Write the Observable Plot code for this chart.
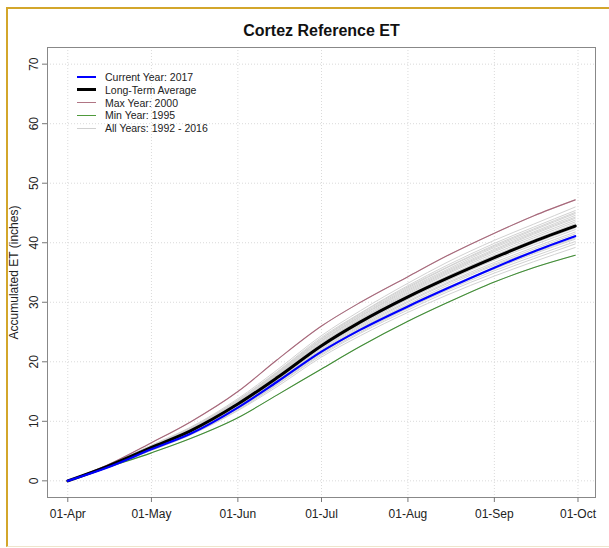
<!DOCTYPE html>
<html><head><meta charset="utf-8">
<script src="https://cdn.jsdelivr.net/npm/d3@7"></script>
<script src="https://cdn.jsdelivr.net/npm/@observablehq/plot@0.6"></script>
<style>
html,body{margin:0;padding:0;background:#fff;}
#wrap{position:relative;width:609px;height:548px;overflow:hidden;font-family:"Liberation Sans",Arial,sans-serif;}
#border{position:absolute;left:6px;top:7px;width:700px;height:537px;border-left:2px solid #d3a62b;border-top:2px solid #d3a62b;border-bottom:1px solid #efe5cc;pointer-events:none;}
#legend{position:absolute;left:77px;top:70.6px;font-size:10.5px;color:#222;}
.row{display:flex;align-items:center;height:12.8px;white-space:nowrap;}
.sw{width:19px;margin-right:9px;}
#chart svg{display:block;}
</style></head><body>
<div id="wrap"><div id="chart"></div><div id="legend"></div><div id="border"></div></div>
<script>
// Sample dates
const dates = ["2017-04-01","2017-04-15","2017-05-01","2017-05-15","2017-06-01","2017-06-15","2017-07-01","2017-07-15","2017-08-01","2017-08-15","2017-09-01","2017-09-15","2017-09-30"];
// Main series (accumulated ET, inches)
const avgLT   = [0, 2.4, 5.6, 8.4, 12.9, 17.3, 22.7, 26.7, 30.9, 34.0, 37.5, 40.2, 42.8];
const cur2017 = [0, 2.2, 5.3, 7.9, 12.3, 16.6, 21.7, 25.4, 29.3, 32.3, 35.8, 38.5, 41.1];
const max2000 = [0, 2.6, 6.4, 9.9, 15.0, 20.3, 26.0, 30.0, 34.3, 37.8, 41.6, 44.5, 47.2];
const min1995 = [0, 2.2, 4.7, 7.1, 10.6, 14.4, 18.8, 22.6, 26.8, 29.9, 33.4, 35.8, 37.9];
// All years (gray)
const y1992 = [0, 2.4, 5.7, 8.5, 13.1, 17.6, 23.1, 27.1, 31.4, 34.7, 38.2, 40.8, 43.5];
const y1993 = [0, 2.3, 5.5, 8.2, 12.5, 16.9, 22.2, 26.0, 30.2, 33.3, 36.7, 39.2, 41.8];
const y1994 = [0, 2.5, 5.8, 8.7, 13.4, 18.0, 23.6, 27.7, 32.2, 35.5, 39.2, 41.8, 44.6];
const y1996 = [0, 2.5, 5.9, 8.9, 13.6, 18.3, 24.1, 28.2, 32.8, 36.2, 39.9, 42.6, 45.4];
const y1997 = [0, 2.3, 5.3, 8.0, 12.2, 16.4, 21.5, 25.3, 29.3, 32.4, 35.6, 38.1, 40.6];
const y1998 = [0, 2.4, 5.5, 8.3, 12.7, 17.0, 22.4, 26.2, 30.5, 33.6, 37.1, 39.6, 42.2];
const y1999 = [0, 2.3, 5.4, 8.1, 12.4, 16.6, 21.8, 25.6, 29.7, 32.8, 36.2, 38.6, 41.2];
const y2001 = [0, 2.5, 5.8, 8.6, 13.2, 17.8, 23.4, 27.4, 31.8, 35.1, 38.7, 41.4, 44.1];
const y2002 = [0, 2.6, 6.0, 9.0, 13.8, 18.6, 24.4, 28.6, 33.2, 36.7, 40.4, 43.1, 46.0];
const y2003 = [0, 2.5, 5.9, 8.8, 13.5, 18.1, 23.8, 27.9, 32.4, 35.8, 39.4, 42.1, 44.9];
const y2004 = [0, 2.3, 5.3, 7.9, 12.1, 16.2, 21.3, 25.0, 29.0, 32.0, 35.3, 37.7, 40.2];
const y2005 = [0, 2.4, 5.6, 8.4, 12.8, 17.3, 22.6, 26.6, 30.8, 34.0, 37.5, 40.1, 42.7];
const y2006 = [0, 2.4, 5.6, 8.4, 12.9, 17.4, 22.8, 26.7, 31.0, 34.3, 37.8, 40.3, 43.0];
const y2007 = [0, 2.5, 5.7, 8.6, 13.1, 17.7, 23.2, 27.2, 31.6, 34.9, 38.5, 41.1, 43.8];
const y2008 = [0, 2.4, 5.6, 8.3, 12.8, 17.2, 22.5, 26.4, 30.7, 33.9, 37.3, 39.9, 42.5];
const y2009 = [0, 2.2, 5.1, 7.7, 11.8, 15.8, 20.8, 24.4, 28.3, 31.2, 34.4, 36.8, 39.2];
const y2010 = [0, 2.3, 5.4, 8.1, 12.5, 16.8, 22.0, 25.8, 30.0, 33.1, 36.4, 38.9, 41.5];
const y2011 = [0, 2.5, 5.8, 8.7, 13.3, 17.9, 23.5, 27.6, 32.0, 35.3, 38.9, 41.6, 44.3];
const y2012 = [0, 2.5, 5.9, 8.8, 13.5, 18.2, 23.9, 28.1, 32.6, 35.9, 39.6, 42.3, 45.1];
const y2013 = [0, 2.4, 5.7, 8.5, 13.0, 17.5, 22.9, 26.9, 31.2, 34.4, 37.9, 40.5, 43.2];
const y2014 = [0, 2.3, 5.3, 8.0, 12.2, 16.5, 21.6, 25.4, 29.5, 32.5, 35.8, 38.3, 40.8];
const y2015 = [0, 2.2, 5.2, 7.8, 11.9, 16.1, 21.1, 24.8, 28.7, 31.7, 34.9, 37.3, 39.8];
const y2016 = [0, 2.4, 5.6, 8.4, 12.9, 17.3, 22.7, 26.7, 31.0, 34.2, 37.7, 40.2, 42.9];
const grayYears = [[1992,y1992],[1993,y1993],[1994,y1994],[1995,min1995],[1996,y1996],[1997,y1997],[1998,y1998],[1999,y1999],[2000,max2000],[2001,y2001],[2002,y2002],[2003,y2003],[2004,y2004],[2005,y2005],[2006,y2006],[2007,y2007],[2008,y2008],[2009,y2009],[2010,y2010],[2011,y2011],[2012,y2012],[2013,y2013],[2014,y2014],[2015,y2015],[2016,y2016]];
// Axis ticks
const xTickDates = ["2017-04-01","2017-05-01","2017-06-01","2017-07-01","2017-08-01","2017-09-01","2017-10-01"];
const yTicks = [0,10,20,30,40,50,60,70];
const yLimits = [0, 70];
const title = "Cortez Reference ET";
const yLabel = "Accumulated ET (inches)";
const legendItems = [
  ["Current Year: 2017", "#0000ff", 2],
  ["Long-Term Average", "#000000", 3],
  ["Max Year: 2000", "#b07584", 1],
  ["Min Year: 1995", "#4f9a3c", 1.5],
  ["All Years: 1992 - 2016", "#d0d0d0", 1]
];

const toDate = s => new Date(s + "T00:00:00Z");
const series = arr => dates.map((d, i) => ({date: toDate(d), v: arr[i]}));
const grayData = grayYears.flatMap(([yr, arr]) => dates.map((d, i) => ({date: toDate(d), v: arr[i], year: yr})));

// R-style 4% padding of ranges
const t0 = toDate(dates[0]).getTime(), t1 = toDate(dates[dates.length-1]).getTime();
const px = (t1 - t0) * 0.04;
const py = (yLimits[1] - yLimits[0]) * 0.04;
const xTicks = xTickDates.map(toDate);
const fmt = d3.utcFormat("%d-%b");
const curve = "monotone-x";

const chart = Plot.plot({
  width: 609, height: 548,
  marginLeft: 47, marginRight: 14, marginTop: 47, marginBottom: 51,
  style: {fontFamily: "'Liberation Sans', Arial, sans-serif", fontSize: "12px", background: "transparent"},
  x: {type: "utc", domain: [new Date(t0 - px), new Date(t1 + px)]},
  y: {domain: [yLimits[0] - py, yLimits[1] + py]},
  marks: [
    Plot.gridX(xTicks, {stroke: "#dadada", strokeOpacity: 1, strokeDasharray: "1,2"}),
    Plot.gridY(yTicks, {stroke: "#dadada", strokeOpacity: 1, strokeDasharray: "1,2"}),
    Plot.lineY(grayData, {x: "date", y: "v", z: "year", stroke: "#d2d2d2", strokeWidth: 1, curve}),
    Plot.lineY(series(max2000), {x: "date", y: "v", stroke: "#a8677a", strokeWidth: 1.1, curve}),
    Plot.lineY(series(min1995), {x: "date", y: "v", stroke: "#3f8e33", strokeWidth: 1.1, curve}),
    Plot.lineY(series(avgLT), {x: "date", y: "v", stroke: "#000000", strokeWidth: 3, curve}),
    Plot.lineY(series(cur2017), {x: "date", y: "v", stroke: "#0000ff", strokeWidth: 2.2, curve}),
    Plot.frame({stroke: "#888"}),
    Plot.axisX(xTicks, {tickFormat: fmt, tickSize: 5, tickPadding: 7, fontSize: 12, stroke: "#777", fill: "#222", label: null}),
    Plot.axisY(yTicks, {tickSize: 5, tickPadding: 5, tickRotate: -90, fontSize: 12, stroke: "#777", fill: "#222", label: null}),
    Plot.text([yLabel], {frameAnchor: "left", dx: -33, rotate: -90, textAnchor: "middle", lineAnchor: "middle", fontSize: 12, fill: "#222"}),
    Plot.text([title], {frameAnchor: "top", dy: -17, lineAnchor: "middle", textAnchor: "middle", fontSize: 16, fontWeight: "bold", fill: "#111"})
  ]
});
document.getElementById("chart").appendChild(chart);

const leg = document.getElementById("legend");
for (const [label, color, w] of legendItems) {
  const row = document.createElement("div");
  row.className = "row";
  const sw = document.createElement("span");
  sw.className = "sw";
  sw.style.height = w + "px";
  sw.style.background = color;
  const tx = document.createElement("span");
  tx.textContent = label;
  row.appendChild(sw); row.appendChild(tx);
  leg.appendChild(row);
}
</script>
</body></html>
